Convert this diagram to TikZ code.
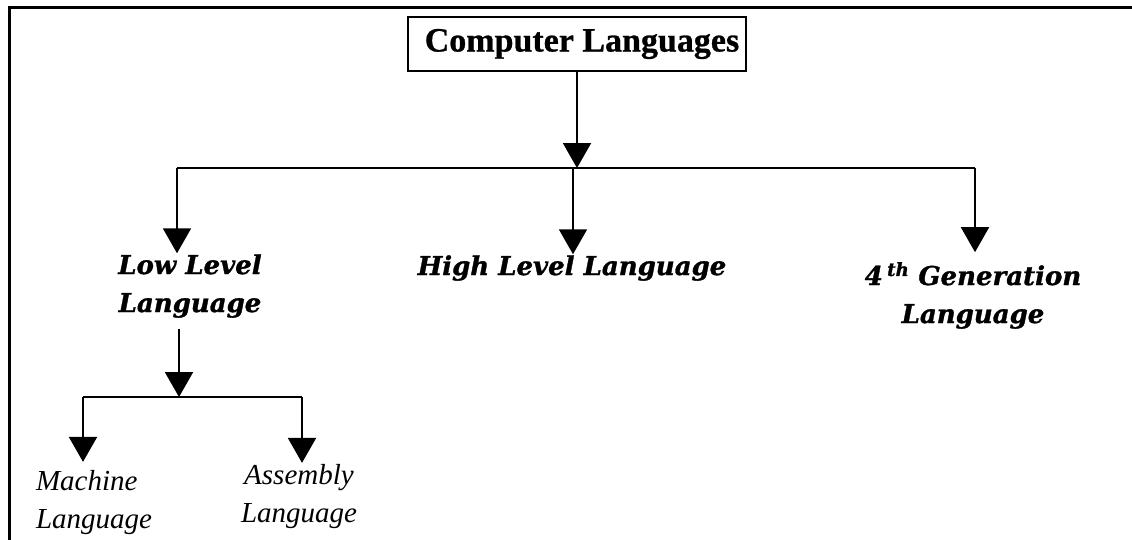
\documentclass[tikz,border=0pt]{standalone}
\usepackage{fontspec}
\setmainfont{Liberation Serif}[BoldFeatures={FakeBold=0.8}]
\newfontfamily\labelfont{DejaVu Serif}[BoldItalicFeatures={FakeBold=1.2}]
\usetikzlibrary{arrows.meta}

\begin{document}
\begin{tikzpicture}[x=1pt, y=-1pt, line width=2pt,
  conn/.style={-{Triangle[width=28pt,length=25pt]}},
  titlebox/.style={draw, line width=2pt, minimum width=338pt, minimum height=54pt,
    inner sep=0pt, font=\fontsize{34}{36}\selectfont\bfseries},
  major/.style={align=center, inner sep=0pt,
    font=\labelfont\fontsize{26}{38}\selectfont\bfseries\itshape},
  minor/.style={inner sep=0pt, font=\fontsize{29}{38}\selectfont\itshape}]
\useasboundingbox (0,0) rectangle (1132,539);

% page frame
\draw[line width=3pt] (1145,7) -- (9,7) -- (9,550);

% root
\node[titlebox] (cl) at (577,44) {\hspace{10pt}Computer Languages};

% first level (multi-line nodes are anchored on the baseline of their last line)
\coordinate (bl) at (177,168);
\coordinate (bm) at (573,168);
\coordinate (br) at (975,168);
\node[major, anchor=base] (low)  at (190,312) {Low Level\\Language};
\node[major, anchor=base] (high) at (572,275) {High Level Language};
\node[major, anchor=base] (gen)  at (973,323) {4\,\textsuperscript{th} Generation\\Language};

\draw[conn] (cl.south) -- (cl.south |- bl);
\draw (bl) -- (br);
\draw[conn] (bl) -- (bl |- low.north);
\draw[conn] (bm) -- (bm |- high.north);
\draw[conn] (br) -- ([yshift=9pt]br |- gen.north);

% second level
\coordinate (lj) at (179,397);
\coordinate (ml) at (83,397);
\coordinate (al) at (302,397);
\node[minor, align=left, anchor=base west] (mach) at (35,528) {Machine\\Language};
\node[minor, align=center, anchor=base] (asm) at (299,522) {Assembly\\Language};

\draw[conn, shorten <=10pt] (lj |- low.south) -- (lj);
\draw (ml) -- (al);
\draw[conn] (ml) -- ([yshift=7pt]ml |- mach.north);
\draw[conn] (al) -- (al |- asm.north);
\end{tikzpicture}
\end{document}
